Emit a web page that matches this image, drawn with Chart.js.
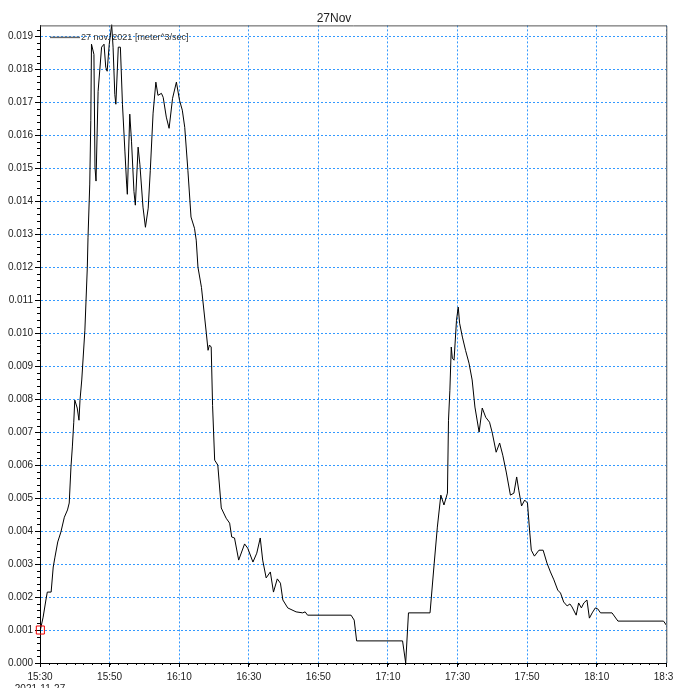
<!DOCTYPE html>
<html>
<head>
<meta charset="utf-8">
<script src="https://cdn.jsdelivr.net/npm/chart.js@4.4.1/dist/chart.umd.min.js"></script>
<style>
  html, body { margin: 0; padding: 0; background: #fff; }
  #wrap { width: 673px; height: 688px; }
</style>
</head>
<body>
<div id="wrap"><canvas id="flow-chart"></canvas></div>
<script>
// minutes after 15:30 on 2021-11-27
const startHour = 15
const startMinute = 30
const minutes = [
  0.1, 0.9, 1.7, 2.1, 3.2, 3.8, 4.3, 5.1, 6.0, 7.0,
  7.9, 8.4, 8.9, 9.3, 9.7, 10.0, 10.7, 11.2, 11.5, 12.0,
  12.9, 13.6, 13.8, 14.3, 14.6, 14.8, 15.5, 15.8, 16.1, 16.7,
  17.7, 18.4, 18.9, 19.3, 19.9, 20.6, 21.0, 21.5, 21.8, 22.5,
  23.1, 23.7, 24.4, 24.9, 25.1, 25.8, 26.3, 27.0, 27.4, 28.2,
  28.7, 29.6, 30.3, 31.1, 31.7, 32.5, 33.3, 33.9, 34.9, 35.4,
  36.3, 37.1, 38.1, 39.2, 40.1, 40.9, 41.6, 42.5, 43.4, 44.4,
  44.9, 45.4, 46.4, 47.8, 48.3, 48.7, 49.2, 49.6, 50.2,
  51.1, 52.1, 53.5, 54.5, 55.1, 55.9, 57.1, 58.8, 59.7, 61.2,
  62.3, 63.3, 64.0, 65.0, 66.2, 67.1, 68.2, 69.1, 69.8, 71.2,
  73.6, 75.5, 76.2, 76.9, 89.4, 90.3, 91.0, 104.2, 105.1, 105.9,
  112.1, 113.3, 114.2, 115.2, 116.1, 117.1, 117.4, 117.8, 118.2, 118.5,
  119.0, 119.3, 119.7, 120.2, 120.6, 121.4, 122.3, 123.3, 124.2, 125.0,
  126.2, 127.1, 128.1, 129.2, 130.0, 131.1, 132.1, 133.0, 134.0, 135.2,
  136.2, 137.0, 137.6, 138.4, 139.3, 140.1, 140.7, 141.2, 142.1, 143.4,
  144.6, 145.7, 146.7, 147.7, 148.8, 149.6, 150.5, 151.5, 152.3, 152.9,
  154.1, 154.8, 155.6, 156.3, 157.2, 157.9, 158.7, 159.6, 160.3, 161.1,
  164.4, 166.1, 179.2, 180.0
]

// meter^3/sec
const flow = [
  0.00100, 0.00139, 0.00191, 0.00215, 0.00215, 0.00291, 0.00321, 0.00367, 0.00397, 0.00442,
  0.00464, 0.00485, 0.00594, 0.00655, 0.00730, 0.00797, 0.00773, 0.00736, 0.00797, 0.00858,
  0.01009, 0.01200, 0.01291, 0.01452, 0.01645, 0.01876, 0.01845, 0.01503, 0.01461, 0.01733,
  0.01867, 0.01876, 0.01806, 0.01794, 0.01876, 0.01935, 0.01867, 0.01724, 0.01694, 0.01867,
  0.01867, 0.01694, 0.01552, 0.01452, 0.01421, 0.01664, 0.01582, 0.01430, 0.01388, 0.01564,
  0.01512, 0.01382, 0.01321, 0.01379, 0.01494, 0.01667, 0.01761, 0.01721, 0.01727, 0.01715,
  0.01655, 0.01621, 0.01712, 0.01761, 0.01706, 0.01676, 0.01624, 0.01494, 0.01352, 0.01318,
  0.01282, 0.01200, 0.01139, 0.01000, 0.00948, 0.00964, 0.00958, 0.00780, 0.00615,
  0.00600, 0.00470, 0.00439, 0.00424, 0.00382, 0.00379, 0.00312, 0.00361, 0.00348, 0.00306,
  0.00333, 0.00379, 0.00312, 0.00258, 0.00276, 0.00215, 0.00255, 0.00242, 0.00191, 0.00167,
  0.00155, 0.00152, 0.00155, 0.00145, 0.00145, 0.00130, 0.00067, 0.00067, 0.00000, 0.00152,
  0.00152, 0.00303, 0.00412, 0.00509, 0.00479, 0.00515, 0.00736, 0.00827, 0.00958, 0.00924,
  0.00918, 0.00970, 0.01039, 0.01079, 0.01030, 0.00988, 0.00948, 0.00909, 0.00858, 0.00776,
  0.00700, 0.00773, 0.00745, 0.00730, 0.00697, 0.00639, 0.00667, 0.00630, 0.00579, 0.00509,
  0.00515, 0.00564, 0.00524, 0.00476, 0.00494, 0.00485, 0.00403, 0.00342, 0.00324, 0.00342,
  0.00342, 0.00303, 0.00276, 0.00252, 0.00221, 0.00212, 0.00185, 0.00173, 0.00179, 0.00170,
  0.00145, 0.00182, 0.00167, 0.00182, 0.00191, 0.00136, 0.00152, 0.00167, 0.00164, 0.00152,
  0.00152, 0.00127, 0.00127, 0.00115
]

const chartTitle = '27Nov'
const seriesLabel = '27 nov. 2021 [meter^3/sec]'
const dateLabel = '2021-11-27'

const xMax = 180
const yMax = 0.01933

const fmtTime = v => {
  const total = startHour * 60 + startMinute + v
  const h = Math.floor(total / 60)
  const m = Math.round(total % 60)
  return h + ':' + String(m).padStart(2, '0')
}

const points = minutes.map((m, i) => ({ x: m, y: flow[i] }))

const gridBlue = '#3399FF'
const fontFam = '"Liberation Sans", Arial, sans-serif'

// short minor ticks + frame + the small legend inside the plot
const decor = {
  id: 'decor',
  afterDraw(chart) {
    const { ctx, chartArea: a, scales: { x, y } } = chart
    ctx.save()
    ctx.strokeStyle = '#000'
    ctx.lineWidth = 1
    ctx.beginPath()
    for (let i = 0; i <= xMax / 2.5; i++) {
      const px = Math.round(x.getPixelForValue(i * 2.5)) + 0.5
      ctx.moveTo(px, a.bottom)
      ctx.lineTo(px, a.bottom + 2)
    }
    for (let i = 0; i * 0.0002 <= yMax; i++) {
      const py = Math.round(y.getPixelForValue(i * 0.0002)) + 0.5
      ctx.moveTo(a.left - 3, py)
      ctx.lineTo(a.left, py)
    }
    ctx.stroke()

    ctx.strokeStyle = '#555'
    ctx.beginPath()
    ctx.moveTo(a.left, a.top + 0.5)
    ctx.lineTo(a.right + 0.5, a.top + 0.5)
    ctx.lineTo(a.right + 0.5, a.bottom)
    ctx.stroke()

    // legend
    ctx.strokeStyle = '#666'
    ctx.lineWidth = 1.5
    ctx.beginPath()
    ctx.moveTo(a.left + 10, a.top + 12)
    ctx.lineTo(a.left + 40, a.top + 12)
    ctx.stroke()
    ctx.fillStyle = '#333'
    ctx.font = '9px ' + fontFam
    ctx.textBaseline = 'middle'
    ctx.fillText(seriesLabel, a.left + 41, a.top + 12)
    ctx.restore()
  }
}

const ctx = document.getElementById('flow-chart').getContext('2d')

new Chart(ctx, {
  type: 'line',
  data: {
    datasets: [{
      label: seriesLabel,
      data: points,
      borderColor: '#000',
      borderWidth: 1,
      tension: 0,
      clip: { left: 8, top: 2, right: 0, bottom: 0 },
      pointStyle: 'rect',
      pointRadius: points.map((p, i) => i === 0 ? 5.7 : 0),
      pointBorderColor: '#e00',
      pointBackgroundColor: 'rgba(0,0,0,0)',
      pointBorderWidth: 1
    }]
  },
  options: {
    responsive: true,
    maintainAspectRatio: false,
    animation: false,
    layout: { padding: { left: 0, right: 5, top: 0, bottom: 0 } },
    plugins: {
      legend: { display: false },
      tooltip: { enabled: false },
      title: {
        display: true,
        text: chartTitle,
        color: '#222',
        font: { family: fontFam, size: 12, weight: 'normal' },
        padding: { top: 11, bottom: 0 }
      }
    },
    scales: {
      x: {
        type: 'linear',
        min: 0,
        max: xMax,
        afterFit: s => { s.height = 25; s.paddingLeft = 0; s.paddingRight = 0 },
        border: { color: '#000', width: 1, dash: [2, 2] },
        grid: { color: gridBlue, lineWidth: 1, tickColor: '#000', tickLength: 4 },
        ticks: {
          stepSize: 20,
          maxRotation: 0,
          autoSkip: false,
          padding: 4,
          color: '#222',
          font: { family: fontFam, size: 10 },
          callback: v => v === 0 ? [fmtTime(v), dateLabel] : fmtTime(v)
        }
      },
      y: {
        min: 0,
        max: yMax,
        afterFit: s => { s.width = 40; s.paddingTop = 0; s.paddingBottom = 0 },
        border: { color: '#000', width: 1, dash: [2, 2] },
        grid: { color: gridBlue, lineWidth: 1, tickColor: '#000', tickLength: 5 },
        ticks: {
          stepSize: 0.001,
          includeBounds: false,
          autoSkip: false,
          padding: 2,
          color: '#222',
          font: { family: fontFam, size: 10 },
          callback: v => v.toFixed(3)
        }
      }
    }
  },
  plugins: [decor]
})
</script>
</body>
</html>
